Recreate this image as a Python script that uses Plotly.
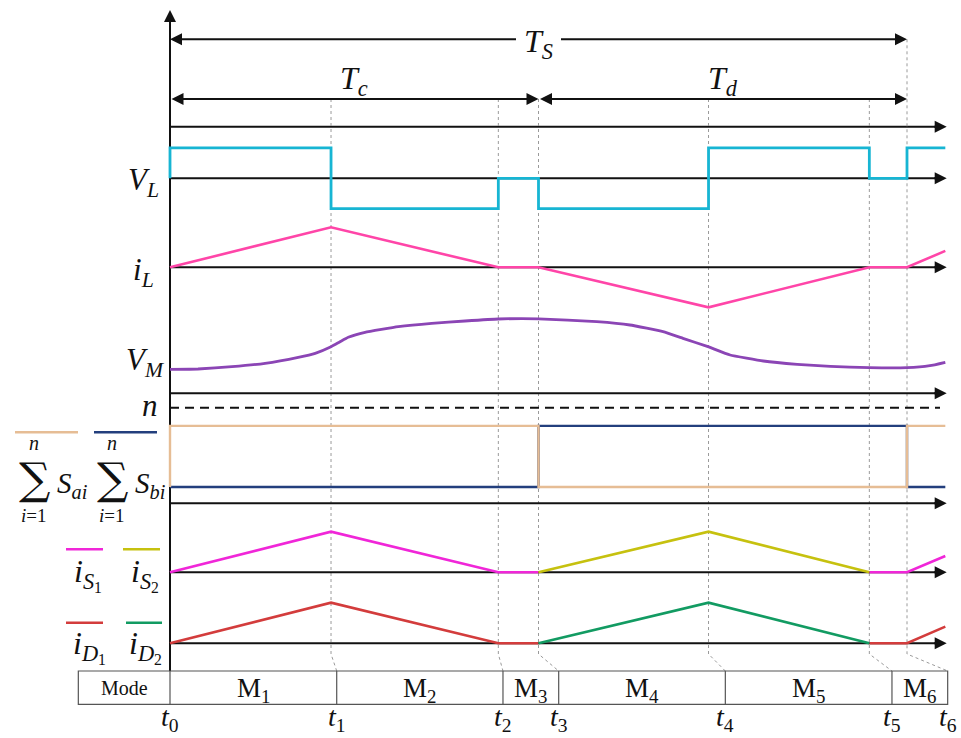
import plotly.graph_objects as go

W, H = 961, 738

# ---------------- data ----------------
# switching instants t0..t6 (switching period Ts = 10 time units)
t_instants = [0.0, 2.185, 4.455, 5.0, 7.307, 9.489, 10.0]
t_names = ["t<sub>0</sub>", "t<sub>1</sub>", "t<sub>2</sub>", "t<sub>3</sub>",
           "t<sub>4</sub>", "t<sub>5</sub>", "t<sub>6</sub>"]
t0, t1, t2, t3, t4, t5, t6 = t_instants
t_end = 10.52          # last drawn sample of the waveforms

# mode table (cell boundaries on the time scale)
mode_bounds = [0.0, 2.262, 4.518, 5.274, 7.535, 9.796, 10.552]
mode_names = ["M<sub>1</sub>", "M<sub>2</sub>", "M<sub>3</sub>",
              "M<sub>4</sub>", "M<sub>5</sub>", "M<sub>6</sub>"]
mode_header = "Mode"
mode_left = -1.244

# inductor voltage V_L (+1 / 0 / -1)
vl_t = [t0, t0, t1, t2, t3, t4, t5, t6, t_end]
vl_v = [0, 1, -1, 0, -1, 1, 0, 1, 1]

# inductor current i_L
il_t = [t0, t1, t2, t3, t4, t5, t6, t_end]
il_v = [0, 1, 0, 0, -1, 0, 0, 0.41]

# module voltage V_M
vm_t = [0.0, 0.38, 0.84, 1.29, 1.74, 1.97, 2.185, 2.307, 2.419, 2.646, 3.098, 3.551,
        4.003, 4.455, 5.0, 5.79, 6.24, 6.69, 6.96, 7.30, 7.60, 8.05, 8.51, 8.96, 9.489,
        10.0, 10.31, 10.52]
vm_v = [2.40, 2.43, 2.66, 3.00, 3.60, 4.00, 4.66, 5.16, 5.60, 6.10, 6.66, 7.00,
        7.23, 7.43, 7.45, 7.16, 6.83, 6.16, 5.50, 4.66, 3.83, 3.23, 2.90, 2.70, 2.56,
        2.56, 2.76, 3.10]

# number of inserted submodules (upper / lower arm), n = 1 (normalised)
n_level = 1.0
sa_t = [t0, t0, t3, t6, t_end]
sa_v = [0.17, 0.81, 0.17, 0.81, 0.81]
sb_t = [t0, t3, t6, t_end]
sb_v = [0.17, 0.81, 0.17, 0.17]

# switch currents
is1_t = [t0, t1, t2, t3, None, t5, t6, t_end]
is1_v = [0, 1, 0, 0, None, 0, 0, 0.40]
is2_t = [t3, t4, t5]
is2_v = [0, 1, 0]

# diode currents
id1_t = [t0, t1, t2, t3, None, t5, t6, t_end]
id1_v = [0, 1, 0, 0, None, 0, 0, 0.41]
id2_t = [t3, t4, t5]
id2_v = [0, 1, 0]

# ---------------- layout helpers ----------------
X0_PX, PX_PER_T = 170.0, 73.7
T_AXIS_END = (946.7 - X0_PX) / PX_PER_T
xr = [-X0_PX / PX_PER_T, (W - X0_PX) / PX_PER_T]


def px(xp):
    return xp / W


def py(yp):
    return 1 - yp / H


# rows: axis id -> (baseline pixel, pixels per unit)
rows = {
    "y": (178.3, 30.4),
    "y2": (267.3, 40.0),
    "y3": (393.3, 10.0),
    "y4": (503.3, 95.6),
    "y5": (572.3, 40.6),
    "y6": (643.3, 40.6),
}

AX_COL = "#111111"
MATH = "Liberation Serif"

fig = go.Figure()


def add(x, y, yax, color, width=2.6, shape="linear", smoothing=None):
    line = dict(color=color, width=width, shape=shape)
    if smoothing is not None:
        line["smoothing"] = smoothing
    fig.add_trace(go.Scatter(x=x, y=y, yaxis=yax, mode="lines", line=line,
                             hoverinfo="skip", showlegend=False, connectgaps=False))


add(vl_t, vl_v, "y", "#17B5D3", 2.8, "hv")
add(il_t, il_v, "y2", "#FF45A8")
add(vm_t, vm_v, "y3", "#8B45B5", 2.8, "spline", 0.35)
add(sb_t, sb_v, "y4", "#233F7D", 2.4, "hv")
add(sa_t, sa_v, "y4", "#E6BD95", 2.4, "hv")
add(is1_t, is1_v, "y5", "#F026D8")
add(is2_t, is2_v, "y5", "#C6C10F")
add(id1_t, id1_v, "y6", "#D33C3C")
add(id2_t, id2_v, "y6", "#129B62")

shapes = []
annotations = []

# dashed n line
shapes.append(dict(type="line", xref="x", yref="y4", x0=t0, x1=(940 - X0_PX) / PX_PER_T,
                   y0=n_level, y1=n_level, line=dict(color=AX_COL, width=2, dash="9px,6px"),
                   layer="below"))

# row axes (lines below traces) + arrowheads
for yid in rows:
    shapes.append(dict(type="line", xref="x", yref=yid, x0=t0, x1=T_AXIS_END - 0.1,
                       y0=0, y1=0, line=dict(color=AX_COL, width=2), layer="below"))
    annotations.append(dict(x=T_AXIS_END, y=0, xref="x", yref=yid, ax=-14, ay=0,
                            axref="pixel", ayref="pixel", text="", showarrow=True,
                            arrowhead=2, arrowsize=1.2, arrowwidth=2, arrowcolor=AX_COL))
# top time axis
shapes.append(dict(type="line", xref="x", yref="paper", x0=t0, x1=T_AXIS_END - 0.1,
                   y0=py(126.7), y1=py(126.7), line=dict(color=AX_COL, width=2), layer="below"))
annotations.append(dict(x=T_AXIS_END, y=py(126.7), xref="x", yref="paper", ax=-14, ay=0,
                        axref="pixel", ayref="pixel", text="", showarrow=True,
                        arrowhead=2, arrowsize=1.2, arrowwidth=2, arrowcolor=AX_COL))
# vertical axis
shapes.append(dict(type="line", xref="x", yref="paper", x0=t0, x1=t0,
                   y0=py(671), y1=py(20), line=dict(color=AX_COL, width=2), layer="below"))
annotations.append(dict(x=t0, y=py(10), xref="x", yref="paper", ax=0, ay=14,
                        axref="pixel", ayref="pixel", text="", showarrow=True,
                        arrowhead=2, arrowsize=1.2, arrowwidth=2, arrowcolor=AX_COL))

# dotted guides from the time instants down to the mode table
for k in range(1, 7):
    top = 39.3 if k == 6 else 99.0
    path = (f"M {t_instants[k]},{py(top)} L {t_instants[k]},{py(654)} "
            f"L {mode_bounds[k]},{py(671)}")
    shapes.append(dict(type="path", xref="x", yref="paper", path=path,
                       line=dict(color="#9a9a9a", width=1, dash="dot"), layer="below"))

# period arrows
ts_mid = (t0 + t6) / 2
gap = 21 / PX_PER_T
for head, tail in [(t0, ts_mid - gap), (t6, ts_mid + gap)]:
    annotations.append(dict(x=head, y=py(39.3), xref="x", yref="paper", ax=tail, ay=0,
                            axref="x", ayref="pixel", text="", showarrow=True,
                            arrowhead=2, arrowsize=1.2, arrowwidth=2, arrowcolor=AX_COL))
for a, b in [(t0, t3), (t3, t6)]:
    annotations.append(dict(x=b, y=py(99), xref="x", yref="paper", ax=a, ay=0,
                            axref="x", ayref="pixel", text="", showarrow=True,
                            arrowhead=2, startarrowhead=2, arrowside="end+start",
                            arrowsize=1.2, startarrowsize=1.2, arrowwidth=2,
                            arrowcolor=AX_COL))


def label(text, x, y, size=30, xref="paper", family=MATH, color="#111"):
    annotations.append(dict(text=text, x=x, y=y, xref=xref, yref="paper", showarrow=False,
                            xanchor="center", yanchor="middle",
                            font=dict(family=family, size=size, color=color)))


label("<i>T</i><sub><i>S</i></sub>", ts_mid, py(43), xref="x", size=32)
label("<i>T</i><sub><i>c</i></sub>", (t0 + t3) / 2, py(81), xref="x", size=32)
label("<i>T</i><sub><i>d</i></sub>", (t3 + t6) / 2, py(81), xref="x", size=32)

label("<i>V</i><sub><i>L</i></sub>", px(143), py(182), size=31)
label("<i>i</i><sub><i>L</i></sub>", px(143), py(272), size=31)
label("<i>V</i><sub><i>M</i></sub>", px(145), py(362), size=31)
label("<i>n</i>", px(150), py(405), size=31)

# sum labels
for cx, sub in [(34, "ai"), (112, "bi")]:
    label("∑", px(cx), py(478), size=44, family="DejaVu Serif")
    label("<i>n</i>", px(cx), py(443), size=20)
    label("<i>i</i>=1", px(cx), py(515), size=19)
    label(f"<i>S</i><sub><i>{sub}</i></sub>", px(cx + 38), py(485), size=29)
shapes.append(dict(type="line", xref="paper", yref="paper", x0=px(15), x1=px(78),
                   y0=py(432.3), y1=py(432.3), line=dict(color="#E6BD95", width=2.4)))
shapes.append(dict(type="line", xref="paper", yref="paper", x0=px(94), x1=px(157),
                   y0=py(432.3), y1=py(432.3), line=dict(color="#233F7D", width=2.4)))

# current labels
for (x0l, x1l, col, txt, cx, yl, yt) in [
        (66, 103, "#F026D8", "<i>i</i><sub><i>S</i><sub>1</sub></sub>", 88, 549.3, 574),
        (123, 160, "#C6C10F", "<i>i</i><sub><i>S</i><sub>2</sub></sub>", 145, 549.3, 574),
        (66, 103, "#D33C3C", "<i>i</i><sub><i>D</i><sub>1</sub></sub>", 89, 622.7, 646),
        (126, 162, "#129B62", "<i>i</i><sub><i>D</i><sub>2</sub></sub>", 145, 622.7, 646)]:
    shapes.append(dict(type="line", xref="paper", yref="paper", x0=px(x0l), x1=px(x1l),
                       y0=py(yl), y1=py(yl), line=dict(color=col, width=2.6)))
    label(txt, px(cx), py(yt), size=32)

# mode table
TB_COL = "#555555"
shapes.append(dict(type="rect", xref="x", yref="paper", x0=mode_left, x1=mode_bounds[-1],
                   y0=py(704.3), y1=py(671), line=dict(color=TB_COL, width=1.2)))
for b in mode_bounds[:-1]:
    shapes.append(dict(type="line", xref="x", yref="paper", x0=b, x1=b,
                       y0=py(704.3), y1=py(671), line=dict(color=TB_COL, width=1.2)))
label(mode_header, (mode_left + mode_bounds[0]) / 2, py(688), size=20, xref="x")
for i, name in enumerate(mode_names):
    label(name, (mode_bounds[i] + mode_bounds[i + 1]) / 2, py(690), size=27, xref="x")

# time instant labels
for b, name in zip(mode_bounds, t_names):
    label(f"<i>{name[0]}</i>{name[1:]}", b, py(718), size=28, xref="x")

layout = dict(
    width=W, height=H, margin=dict(l=0, r=0, t=0, b=0),
    paper_bgcolor="white", plot_bgcolor="white",
    xaxis=dict(range=xr, visible=False, fixedrange=True),
    shapes=shapes, annotations=annotations, showlegend=False,
)
for i, (yid, (base, s)) in enumerate(rows.items()):
    key = "yaxis" if yid == "y" else "yaxis" + yid[1:]
    ax = dict(range=[(base - H) / s, base / s], visible=False, fixedrange=True,
              domain=[0, 1])
    if yid != "y":
        ax["overlaying"] = "y"
    layout[key] = ax

fig.update_layout(**layout)
fig.write_html("out.html")
